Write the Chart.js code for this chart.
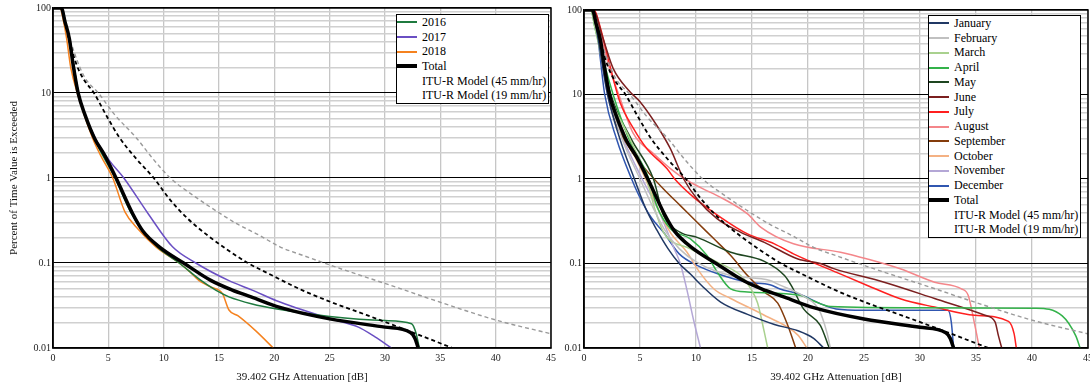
<!DOCTYPE html>
<html>
<head>
<meta charset="utf-8">
<script src="https://cdn.jsdelivr.net/npm/chart.js@4.4.1/dist/chart.umd.min.js"></script>
<style>
  html, body { margin: 0; padding: 0; background: #fff; overflow: hidden; }
  #wrap { position: relative; width: 1090px; height: 389px; overflow: hidden; }
  canvas { position: absolute; top: 0; }
  #left { left: 0; }
  #right { left: 560px; }
  .legend { position: absolute; box-sizing: border-box; width: 153px; background: #fff; border: 1px solid #000;
            font: 12px "Liberation Serif", "Times New Roman", serif; color: #000; }
  .legend .row { display: flex; align-items: center; white-space: nowrap; }
  .legend .s { display: inline-block; width: 20px; margin-right: 5px; }
</style>
</head>
<body>
<div id="wrap">
  <canvas id="left" width="560" height="389"></canvas>
  <canvas id="right" width="540" height="389"></canvas>
  <div id="legLeft" class="legend" style="left:396px; top:14px;"></div>
  <div id="legRight" class="legend" style="left:928px; top:15px;"></div>
</div>
<script>
// axis ticks
const attenTicks = [0, 5, 10, 15, 20, 25, 30, 35, 40, 45];
const pctTicks = [0.01, 0.1, 1, 10, 100];

// [attenuation dB, percent of time exceeded]
const total = [[0,100],[0.75,100],[1.08,69],[1.47,44],[1.83,21],[2.27,10],[2.9,5.5],[3.77,2.9],[4.67,1.85],[5.7,1.0],[7.2,0.38],[8.1,0.24],[9.6,0.155],[11.8,0.1],[14.3,0.062],[16.2,0.048],[17.9,0.040],[20.5,0.030],[25,0.022],[30,0.0176],[32.3,0.0152],[32.7,0.013],[33.0,0.01]];
const itu45 = [[1.2,60],[1.5,40],[2.1,22],[2.7,15],[3.7,10],[4.8,5.5],[6.0,3.0],[7.5,1.7],[9.1,1.0],[10.6,0.55],[12.2,0.33],[14.0,0.21],[15.7,0.145],[17.6,0.1],[19.3,0.077],[22.5,0.048],[25.3,0.034],[28.3,0.0245],[31.3,0.0175],[36.1,0.01]];
const itu19 = [[1.2,60],[1.6,40],[2.3,22],[2.9,15],[4.1,10],[5.6,5.5],[7.5,3.0],[9.0,1.7],[10.6,1.0],[12.7,0.62],[14.5,0.43],[16.6,0.29],[18.7,0.21],[20.5,0.155],[22.8,0.12],[25.3,0.092],[28.0,0.07],[31.0,0.052],[34.3,0.037],[40.2,0.021],[45,0.0147]];

const y2016 = [[0,100],[0.8,100],[1.1,70],[1.5,42],[2.3,10],[3.7,3.0],[5.6,1.0],[7.0,0.4],[8.0,0.25],[9.4,0.155],[11.4,0.1],[13.4,0.062],[14.7,0.048],[15.9,0.040],[18,0.033],[20.1,0.029],[25,0.0235],[30,0.021],[32.4,0.0193],[32.8,0.015],[33.1,0.01]];
const y2017 = [[0,100],[0.8,100],[1.1,70],[1.5,42],[2.3,10],[2.9,5.5],[3.9,2.8],[5.1,1.6],[6.4,1.0],[8.6,0.38],[10.8,0.155],[12.9,0.1],[15.9,0.062],[18.0,0.048],[20.2,0.036],[25,0.0222],[27.6,0.0176],[29.1,0.0135],[30.6,0.01]];
const y2018 = [[0,100],[0.65,100],[0.9,75],[1.23,44],[1.6,20],[2.2,10],[3.6,2.9],[4.3,1.85],[5.4,1.0],[6.5,0.4],[7.7,0.25],[9.3,0.155],[11.4,0.1],[12.4,0.078],[13.2,0.062],[14.3,0.052],[15.3,0.044],[15.9,0.028],[16.7,0.024],[18.3,0.016],[19.9,0.01]];

const jan = [[0,100],[0.7,100],[1.1,60],[2.1,10],[3.2,3],[4.5,1.0],[5.5,0.45],[6.5,0.25],[7.5,0.15],[8.5,0.1],[9.5,0.075],[10.5,0.055],[12.2,0.035],[14.6,0.025],[17,0.019],[19.1,0.016],[20.5,0.013],[21.4,0.01]];
const feb = [[0,100],[0.7,100],[1.1,60],[2.2,10],[3.4,3],[5.0,1.0],[6.2,0.45],[7.2,0.25],[8.5,0.15],[10.1,0.103],[13.1,0.072],[16.6,0.063],[17.3,0.057],[19.6,0.041],[21,0.028],[21.7,0.015],[22,0.01]];
const mar = [[0,100],[0.6,100],[1.0,60],[2.3,10],[4.1,3],[5.6,1.0],[6.3,0.45],[7.1,0.234],[9.5,0.149],[11.9,0.104],[14.0,0.072],[14.9,0.050],[15.5,0.034],[16.1,0.0154],[16.4,0.01]];
const apr = [[0,100],[0.6,100],[1.0,60],[2.6,10],[4.0,3],[5.8,1.0],[6.5,0.48],[7.7,0.26],[9.5,0.196],[11.0,0.124],[11.9,0.079],[13.1,0.050],[14.6,0.046],[19.3,0.042],[20.5,0.036],[22,0.031],[30,0.030],[40.3,0.0296],[42.7,0.024],[43.9,0.014],[44.3,0.01]];
const may = [[0,100],[0.7,100],[1.1,60],[2.4,10],[4.2,3],[6.2,1.0],[7.1,0.37],[8.6,0.234],[10.1,0.204],[13.1,0.136],[16.1,0.106],[17.9,0.072],[18.5,0.055],[19.6,0.029],[21.1,0.0185],[21.9,0.01]];
const jun = [[0,100],[0.8,100],[1.7,46],[2.6,20.4],[4.1,10.8],[5.0,8.2],[6.5,4.3],[7.7,2.3],[8.9,1.0],[10.1,0.58],[11.9,0.337],[14.0,0.234],[16.1,0.178],[19.1,0.113],[21.1,0.1],[22.3,0.087],[26.8,0.060],[31.3,0.0385],[35.8,0.0244],[36.7,0.0204],[37.0,0.014],[37.3,0.01]];
const jul = [[0,100],[0.9,100],[1.4,66],[2.3,22.4],[3.2,8.2],[4.4,4.0],[5.6,2.3],[7.4,1.33],[8.1,1.0],[9.8,0.607],[12.2,0.352],[14.6,0.224],[17.0,0.171],[18.7,0.13],[22.6,0.078],[25.3,0.055],[28.3,0.038],[31.3,0.0305],[34.9,0.0244],[37.9,0.0207],[38.4,0.0148],[38.6,0.01]];
const aug = [[0,100],[0.9,100],[1.4,60],[2.2,22],[3.1,10],[4.4,3.46],[6.2,2.0],[7.8,1.3],[9.0,1.0],[10.5,0.78],[12.2,0.607],[14.6,0.386],[15.8,0.268],[18.7,0.171],[22.9,0.136],[25.3,0.113],[28.3,0.086],[31.3,0.060],[33.7,0.050],[34.3,0.042],[34.9,0.0185],[35.3,0.01]];
const sep = [[0,100],[0.8,100],[1.2,55],[1.9,15],[2.6,5.7],[4.0,2.4],[5.3,1.4],[7.1,0.76],[8.6,0.484],[10.1,0.307],[11.6,0.196],[13.1,0.124],[14.6,0.072],[16.1,0.046],[17.3,0.034],[18.2,0.0185],[18.9,0.01]];
const oct = [[0,100],[0.8,100],[1.1,60],[2.3,10],[3.8,3],[5.5,1.0],[6.5,0.48],[7.7,0.234],[9.2,0.136],[10.1,0.087],[11.6,0.050],[13.1,0.0385],[16.1,0.0244],[19.1,0.0142],[19.9,0.01]];
const nov = [[0,100],[0.7,100],[1.1,60],[2.1,10],[3.5,3],[5.2,1.0],[6.8,0.386],[8.0,0.155],[8.6,0.1],[9.2,0.048],[9.8,0.021],[10.4,0.01]];
const dec = [[0,100],[0.7,100],[1.2,50],[1.85,10],[2.9,3],[4.25,1.0],[5.0,0.6],[6.0,0.35],[7.1,0.234],[8.5,0.13],[10.1,0.095],[12,0.075],[14.6,0.060],[16.6,0.056],[17.5,0.05],[19.3,0.043],[21,0.034],[22.5,0.029],[25,0.028],[32.5,0.028],[32.8,0.02],[33,0.01]];

const serif = '"Liberation Serif", "Times New Roman", serif';

function line(label, data, color, width, order, dash) {
  return {
    label: label, data: data, borderColor: color, backgroundColor: color,
    borderWidth: width, borderDash: dash || [], pointRadius: 0,
    cubicInterpolationMode: 'monotone', fill: false, order: order
  };
}

function itu(label, data, color, width) {
  const ds = line(label, data, color, width, 1, [4, 3]);
  ds.noSample = true;
  return ds;
}

const leftSets = [
  line('2016', y2016, '#1f7a3f', 1.5, 2),
  line('2017', y2017, '#6a4fc3', 1.5, 2),
  line('2018', y2018, '#f5821f', 1.5, 2),
  line('Total', total, '#000', 3.5, 0),
  itu('ITU-R Model (45 mm/hr)', itu45, '#000', 1.8),
  itu('ITU-R Model (19 mm/hr)', itu19, '#9a9a9a', 1.4)
];

const rightSets = [
  line('January', jan, '#203864', 1.5, 2),
  line('February', feb, '#c0c0c0', 1.5, 2),
  line('March', mar, '#a9d18e', 1.5, 2),
  line('April', apr, '#33b24a', 1.5, 2),
  line('May', may, '#1e4620', 1.5, 2),
  line('June', jun, '#7b1f1f', 1.5, 2),
  line('July', jul, '#ff1f1f', 1.5, 2),
  line('August', aug, '#f4868a', 1.5, 2),
  line('September', sep, '#843c0c', 1.5, 2),
  line('October', oct, '#f4b183', 1.5, 2),
  line('November', nov, '#b4a7d6', 1.5, 2),
  line('December', dec, '#3056b0', 1.5, 2),
  line('Total', total, '#000', 3.5, 0),
  itu('ITU-R Model (45 mm/hr)', itu45, '#000', 1.8),
  itu('ITU-R Model (19 mm/hr)', itu19, '#9a9a9a', 1.4)
];

function isDecade(v) {
  const l = Math.log10(v);
  return Math.abs(l - Math.round(l)) < 1e-9;
}

// black frame round the plot area
const frame = {
  id: 'frame',
  afterDatasetsDraw(chart) {
    const a = chart.chartArea, ctx = chart.ctx;
    ctx.save();
    ctx.strokeStyle = '#000';
    ctx.lineWidth = 1.5;
    ctx.strokeRect(a.left, a.top, a.right - a.left, a.bottom - a.top);
    ctx.restore();
  }
};

function makeChart(id, datasets, pad, yWidth, yTitle) {
  return new Chart(document.getElementById(id), {
    type: 'line',
    data: { datasets: datasets },
    plugins: [frame],
    options: {
      responsive: false,
      animation: false,
      devicePixelRatio: 1,
      layout: { padding: pad },
      plugins: { legend: { display: false }, tooltip: { enabled: false } },
      scales: {
        x: {
          type: 'linear', min: 0, max: 45,
          afterBuildTicks: s => { s.ticks = attenTicks.map(v => ({ value: v })); },
          afterFit: s => { s.height = 41; },
          grid: { color: '#c6c6c6', lineWidth: 1.3, drawTicks: false },
          border: { color: '#000', width: 1.5 },
          ticks: { padding: 4, color: '#222', font: { family: serif, size: 10 }, autoSkip: false, maxRotation: 0 },
          title: { display: true, text: '39.402 GHz Attenuation [dB]', color: '#111',
                   font: { family: serif, size: 11 }, padding: { top: 0, bottom: 5 } }
        },
        y: {
          type: 'logarithmic', min: 0.01, max: 100,
          afterBuildTicks: s => {
            const vals = [];
            pctTicks.slice(0, -1).forEach(d => { for (let m = 1; m <= 9; m++) vals.push(+(d * m).toPrecision(6)); });
            vals.push(pctTicks[pctTicks.length - 1]);
            s.ticks = vals.map(v => ({ value: v }));
          },
          afterFit: s => { s.width = yWidth; },
          grid: {
            drawTicks: false,
            color: c => isDecade(c.tick.value) ? '#000' : '#d0d0d0',
            lineWidth: c => isDecade(c.tick.value) ? 1.1 : 1.6
          },
          border: { color: '#000', width: 1.5 },
          ticks: {
            padding: 2, color: '#222', autoSkip: false, font: { family: serif, size: 10 },
            callback: v => isDecade(v) ? String(pctTicks.find(t => Math.abs(t - v) < 1e-9)) : ''
          },
          title: { display: !!yTitle, text: yTitle || '', color: '#111',
                   font: { family: serif, size: 11 }, padding: { top: 8, bottom: 0 } }
        }
      }
    }
  });
}

function buildLegend(id, datasets) {
  const box = document.getElementById(id);
  const rowH = id === 'legLeft' ? 14.7 : 14.76;
  datasets.forEach(ds => {
    const row = document.createElement('div');
    row.className = 'row';
    row.style.height = rowH + 'px';
    const s = document.createElement('span');
    s.className = 's';
    s.style.borderTop = (ds.noSample ? 0 : ds.borderWidth > 2 ? 4 : 2) + 'px solid ' + (ds.noSample ? 'transparent' : ds.borderColor);
    const t = document.createElement('span');
    t.textContent = ds.label;
    row.appendChild(s);
    row.appendChild(t);
    box.appendChild(row);
  });
}

makeChart('left', leftSets, { top: 8, right: 6, left: 0, bottom: 0 }, 53, 'Percent of Time Value is Exceeded');
makeChart('right', rightSets, { top: 10, right: 12, left: 0, bottom: 0 }, 24, '');
buildLegend('legLeft', leftSets);
buildLegend('legRight', rightSets);
</script>
</body>
</html>
